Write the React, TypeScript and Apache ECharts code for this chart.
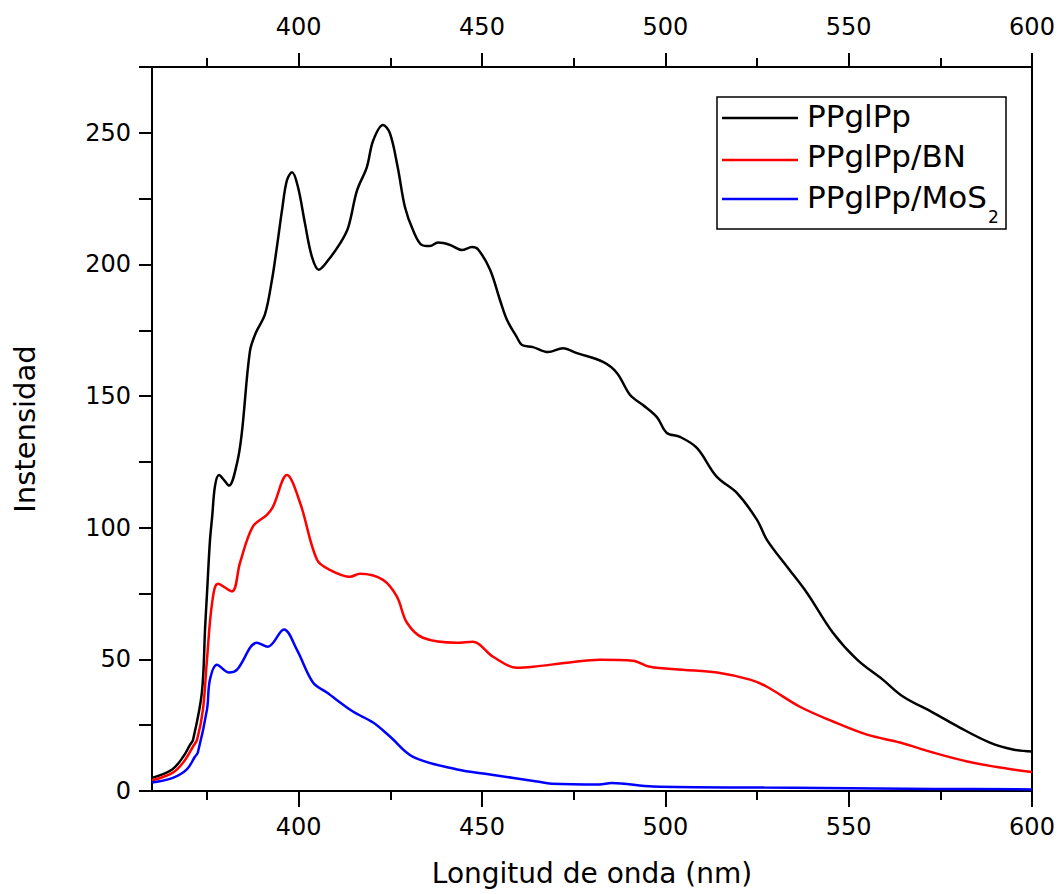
import React, { useEffect, useRef } from "react";
import * as echarts from "echarts";

// ---------- data ----------
const seriesNames = ["PPglPp", "PPglPp/BN", "PPglPp/MoS2"];

const blackWavelength = [
  360, 365.5, 368.5, 370.4, 371.2, 373.6, 374.5, 375, 375.8, 376.4, 377.2, 378.3, 379.7, 381,
  383.2, 384.5, 386.7, 388.3, 390.8, 392.7, 394, 395.5, 396.8, 398.2, 399.8, 401.7, 403.6, 405.5,
  407.7, 411.3, 413.5, 415.9, 418.6, 420.3, 423, 424.9, 427, 429, 431.2, 433.6, 435.8, 438,
  441.3, 444.5, 447.3, 448.9, 452.2, 454.9, 456.8, 459.5, 460.9, 463.9, 468, 472.1, 475.9, 483,
  486.8, 490.4, 493.9, 497.7, 500.4, 504, 508.6, 514, 519.5, 525, 527.7, 533.2, 538.6, 545.7,
  552.3, 559.3, 564.8, 573, 580.3, 588.5, 594.8, 600,
];
const blackIntensity = [
  5, 8.2, 13, 17.6, 19.5, 37.4, 62.5, 75, 95, 104, 116, 120, 118, 116,
  124.6, 136, 167, 174, 181, 194, 206, 221, 232, 235, 229.5, 215.7, 203, 198,
  201, 208, 214, 228, 237, 247, 253, 249.8, 237, 221.7, 213, 207.4, 207, 208.3,
  207.4, 205.5, 206.6, 205.8, 198, 186.5, 179, 172.4, 169.4, 168.6, 166.7, 168.2, 166.3, 163,
  158.8, 150.4, 146.6, 142, 136, 134.5, 130.3, 119.4, 113.2, 103, 95.4, 85.2, 75.3, 60.1,
  49.9, 42.3, 35.9, 29.8, 24.1, 18.4, 15.8, 15,
];

const redWavelength = [
  360, 365.7, 368.5, 371.2, 372.3, 373.9, 375, 376.4, 378, 381.8, 384, 387.5, 391.4, 393,
  396.8, 400.4, 405, 408.5, 414, 416.7, 423, 426.8, 429.5, 433.9, 443.2, 447.5, 453, 459.5,
  463.9, 473.2, 482.2, 491.2, 495.8, 504.8, 514.1, 523.1, 527.7, 536.7, 545.7, 555, 564, 573,
  582.3, 591.3, 600,
];
const redIntensity = [
  4, 7, 10.8, 16.9, 19.5, 31, 50, 71.5, 78.7, 75.8, 86.7, 100.4, 105, 108,
  120, 109.4, 87.8, 84, 81.4, 82.5, 80.2, 73.8, 64, 58.2, 56.3, 56.7, 51, 46.8,
  47.2, 48.7, 49.9, 49.5, 47.2, 46.1, 45, 42.3, 39.6, 32, 26.4, 21.4, 18.4, 14.6,
  11.2, 8.9, 7.2,
];

const blueWavelength = [
  360, 365.7, 369.5, 371.7, 372.5, 375, 375.8, 377.7, 381, 383.2, 388.6, 391.6, 396, 399.5,
  403.9, 407.7, 414.8, 420.3, 424.9, 431.2, 443.2, 452.2, 465, 469, 482, 485.4, 496.6, 527,
  573.5, 600,
];
const blueIntensity = [
  3.2, 5, 8.2, 13, 14.6, 31, 42.3, 48, 45, 46.1, 56.3, 54.8, 61.3, 53.7,
  41.2, 37.4, 30.2, 26, 20.7, 13, 8.2, 6.3, 3.6, 2.8, 2.5, 3, 1.7, 1.3,
  0.8, 0.6,
];

const xMajorTicks = [400, 450, 500, 550, 600];
const xMinorTicks = [375, 425, 475, 525, 575];
const yLabelStep = 50;

const FONT = "DejaVu Sans";

function pairs(xs: number[], ys: number[]) {
  return xs.map((x, i) => [x, ys[i]]);
}

export default function App() {
  const ref = useRef<HTMLDivElement>(null);

  useEffect(() => {
    if (!ref.current) return;
    const chart = echarts.init(ref.current, undefined, { renderer: "svg" });
    const axisLineStyle = { color: "#000", width: 2 };
    const baseX = {
      type: "value",
      min: 360,
      max: 600,
      splitLine: { show: false },
    };
    const lineSeries = (name: string, xs: number[], ys: number[], color: string) => ({
      name,
      type: "line",
      xAxisIndex: 0,
      yAxisIndex: 0,
      data: pairs(xs, ys),
      showSymbol: false,
      symbol: "none",
      smooth: 0.35,
      lineStyle: { color, width: 2.5 },
      z: 3,
    });
    const option: any = {
      animation: false,
      backgroundColor: "#fff",
      textStyle: { fontFamily: FONT },
      grid: { left: 152, right: 31, top: 67, bottom: 103, containLabel: false },
      xAxis: [
        {
          ...baseX,
          position: "bottom",
          name: "Longitud de onda (nm)",
          nameLocation: "middle",
          nameGap: 68,
          nameTextStyle: { fontSize: 28, color: "#000", fontFamily: FONT },
          axisLine: { show: true, onZero: false, lineStyle: axisLineStyle },
          axisTick: { show: true, customValues: xMajorTicks, length: 16, lineStyle: axisLineStyle },
          axisLabel: { show: true, customValues: xMajorTicks, fontSize: 24, color: "#000", margin: 24, fontFamily: FONT },
        },
        {
          ...baseX,
          position: "bottom",
          axisLine: { show: false, onZero: false },
          axisTick: { show: true, customValues: xMinorTicks, length: 9, lineStyle: axisLineStyle },
          axisLabel: { show: false },
        },
        {
          ...baseX,
          position: "top",
          axisLine: { show: true, onZero: false, lineStyle: axisLineStyle },
          axisTick: { show: true, customValues: xMajorTicks, length: 14, lineStyle: axisLineStyle },
          axisLabel: { show: true, customValues: xMajorTicks, fontSize: 24, color: "#000", margin: 28, fontFamily: FONT },
        },
        {
          ...baseX,
          position: "top",
          axisLine: { show: false, onZero: false },
          axisTick: { show: true, customValues: xMinorTicks, length: 9, lineStyle: axisLineStyle },
          axisLabel: { show: false },
        },
      ],
      yAxis: [
        {
          type: "value",
          min: 0,
          max: 275,
          interval: 25,
          position: "left",
          name: "Instensidad",
          nameLocation: "middle",
          nameGap: 113,
          nameTextStyle: { fontSize: 29, color: "#000", fontFamily: FONT },
          axisLine: { show: true, onZero: false, lineStyle: axisLineStyle },
          axisTick: { show: true, length: 13, lineStyle: axisLineStyle },
          axisLabel: {
            show: true,
            fontSize: 24,
            color: "#000",
            margin: 21,
            fontFamily: FONT,
            formatter: (v: number) => (v % yLabelStep === 0 ? String(v) : ""),
          },
          splitLine: { show: false },
        },
        {
          type: "value",
          min: 0,
          max: 275,
          interval: 25,
          position: "right",
          axisLine: { show: true, onZero: false, lineStyle: axisLineStyle },
          axisTick: { show: false },
          axisLabel: { show: false },
          splitLine: { show: false },
        },
      ],
      series: [
        lineSeries(seriesNames[0], blackWavelength, blackIntensity, "#000000"),
        lineSeries(seriesNames[1], redWavelength, redIntensity, "#ff0000"),
        lineSeries(seriesNames[2], blueWavelength, blueIntensity, "#0000ff"),
      ],
      graphic: [
        {
          type: "rect",
          shape: { x: 717, y: 97, width: 289, height: 132 },
          style: { fill: "#fff", stroke: "#000", lineWidth: 1.5 },
          z: 100,
        },
        { type: "line", shape: { x1: 722, y1: 118, x2: 798, y2: 118 }, style: { stroke: "#000000", lineWidth: 2.5 }, z: 101 },
        { type: "line", shape: { x1: 722, y1: 160, x2: 798, y2: 160 }, style: { stroke: "#ff0000", lineWidth: 2.5 }, z: 101 },
        { type: "line", shape: { x1: 722, y1: 199, x2: 798, y2: 199 }, style: { stroke: "#0000ff", lineWidth: 2.5 }, z: 101 },
        {
          type: "text",
          x: 807,
          y: 116,
          style: { text: seriesNames[0], fontSize: 31, fontFamily: FONT, fill: "#000", align: "left", verticalAlign: "middle" },
          z: 101,
        },
        {
          type: "text",
          x: 807,
          y: 156,
          style: { text: seriesNames[1], fontSize: 31, fontFamily: FONT, fill: "#000", align: "left", verticalAlign: "middle" },
          z: 101,
        },
        {
          type: "text",
          x: 807,
          y: 181.5,
          style: {
            text: "{m|PPglPp/MoS}{s|2}",
            align: "left",
            verticalAlign: "top",
            fontFamily: FONT,
            fill: "#000",
            rich: {
              m: { fontSize: 31, lineHeight: 31, fontFamily: FONT, fill: "#000", verticalAlign: "top" },
              s: { fontSize: 17, lineHeight: 17, fontFamily: FONT, fill: "#000", verticalAlign: "top", padding: [27, 0, 0, 1] },
            },
          },
          z: 101,
        },
      ],
    };
    chart.setOption(option);
    return () => chart.dispose();
  }, []);

  return (
    <div
      ref={ref}
      style={{ position: "fixed", left: 0, top: 0, width: 1063, height: 894, background: "#fff" }}
    />
  );
}
